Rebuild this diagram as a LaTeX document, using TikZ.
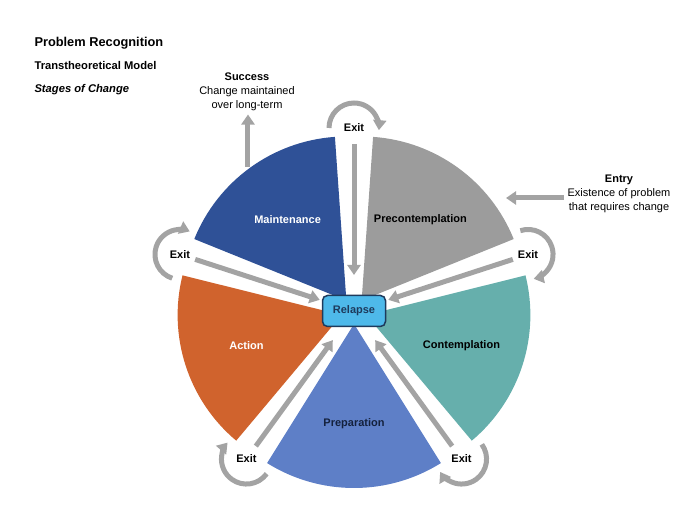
\documentclass[tikz,border=0pt]{standalone}
\usepackage{fontspec}
\setmainfont{Liberation Sans}
\usetikzlibrary{arrows.meta}
\definecolor{maintblue}{HTML}{2F5197}
\definecolor{precgray}{HTML}{9C9C9C}
\definecolor{contteal}{HTML}{66AFAC}
\definecolor{prepblue}{HTML}{5E7FC7}
\definecolor{actorange}{HTML}{D0632D}
\definecolor{relapsefill}{HTML}{4EB9EA}
\definecolor{relapseline}{HTML}{1E3A5C}
\definecolor{arrowgray}{HTML}{A3A3A3}
\definecolor{prepink}{HTML}{14213D}
\begin{document}
\begin{tikzpicture}[x=1pt, y=1pt,
    lbl/.style={font=\fontsize{11}{14}\selectfont\bfseries},
    note/.style={font=\fontsize{11}{14}\selectfont, align=center},
    fat/.style={draw=arrowgray, line width=5pt, -{Triangle[length=10pt,width=13pt]}}]
    \useasboundingbox (-354,-215) rectangle (346,311);
    \fill [maintblue] (126:13) -- ++(94:164) arc [start angle=94, end angle=158, radius=164] -- cycle;
    \fill [precgray] (54:13) -- ++(22:164) arc [start angle=22, end angle=86, radius=164] -- cycle;
    \fill [contteal] (-18:13) -- ++(-50:164) arc [start angle=-50, end angle=14, radius=164] -- cycle;
    \fill [prepblue] (-90:13) -- ++(-122:164) arc [start angle=-122, end angle=-58, radius=164] -- cycle;
    \fill [actorange] (198:13) -- ++(166:164) arc [start angle=166, end angle=230, radius=164] -- cycle;
    \node [lbl, white] (maint) at (126:113) {Maintenance};
    \node [lbl] (precont) at (54:113) {Precontemplation};
    \node [lbl] (cont) at (-18:113) {Contemplation};
    \node [lbl, prepink] (prep) at (-90:113) {Preparation};
    \node [lbl, white] (act) at (198:113) {Action};
    \node [lbl] (exittop) at (90:183) {Exit};
    \node [lbl] (exitright) at (18:183) {Exit};
    \node [lbl] (exitlowright) at (306:183) {Exit};
    \node [lbl] (exitlowleft) at (234:183) {Exit};
    \node [lbl] (exitleft) at (162:183) {Exit};
    \node [lbl, relapseline, draw=relapseline, line width=1.5pt, fill=relapsefill, rounded corners=5pt,
        minimum width=63pt, minimum height=31pt] (relapse) at (0,0) {Relapse};
    \draw [fat, shorten <=16pt, shorten >=36pt] (exittop.center) -- (relapse.center);
    \draw [fat, shorten <=16pt, shorten >=36pt] (exitright.center) -- (relapse.center);
    \draw [fat, shorten <=16pt, shorten >=36pt] (exitlowright.center) -- (relapse.center);
    \draw [fat, shorten <=16pt, shorten >=36pt] (exitlowleft.center) -- (relapse.center);
    \draw [fat, shorten <=16pt, shorten >=36pt] (exitleft.center) -- (relapse.center);
    \draw [fat] (exittop.center) ++(180:25) arc [start angle=180, end angle=-5, radius=25];
    \draw [fat] (exitright.center) ++(108:25) arc [start angle=108, end angle=-77, radius=25];
    \draw [fat] (exitlowright.center) ++(36:25) arc [start angle=36, end angle=-149, radius=25];
    \draw [fat] (exitlowleft.center) ++(-36:25) arc [start angle=-36, end angle=-221, radius=25];
    \draw [fat] (exitleft.center) ++(252:25) arc [start angle=252, end angle=67, radius=25];
    \node [note] (entry) at (265,117) {\textbf{Entry}\\Existence of problem\\that requires change};
    \coordinate (entrytip) at (152,113);
    \draw [fat] (entry.west |- entrytip) -- (entrytip);
    \node [note] (success) at (-107,219) {\textbf{Success}\\Change maintained\\over long-term};
    \coordinate (successbase) at (-106,144);
    \draw [fat] (successbase) -- (successbase |- success.south);
    \node [anchor=west, font=\fontsize{12.8}{15}\selectfont\bfseries] (title) at (-323,268) {Problem Recognition};
    \node [anchor=west, font=\fontsize{11.2}{14}\selectfont\bfseries] (model) at (-323,245) {Transtheoretical Model};
    \node [anchor=west, font=\fontsize{11.2}{14}\selectfont\bfseries\itshape] (stages) at (-323,221) {Stages of Change};
\end{tikzpicture}
\end{document}
